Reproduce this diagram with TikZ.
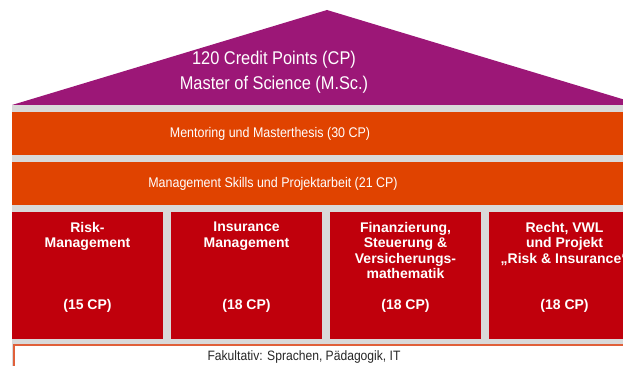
\documentclass[tikz,border=0pt]{standalone}
\usepackage{fontspec}
\setmainfont[FakeStretch=0.89]{Liberation Sans}
\newfontfamily\modfont{Liberation Sans}
\definecolor{roofpurple}{HTML}{9C1777}
\definecolor{bandorange}{HTML}{E04300}
\definecolor{modred}{HTML}{C0000C}
\definecolor{framegrey}{HTML}{D9D9D9}
\definecolor{optborder}{HTML}{E0603A}

\begin{document}
\begin{tikzpicture}[x=1pt,y=-1pt,
    rooftext/.style={text=white,align=center,font=\fontsize{18.4}{25}\selectfont},
    bandtext/.style={text=white,font=\fontsize{14}{16}\selectfont},
    modtext/.style={text=white,align=center,inner sep=0pt,font=\modfont\bfseries\fontsize{14}{15.5}\selectfont},
    opttext/.style={text=black!85,font=\fontsize{13.6}{16}\selectfont}]
\useasboundingbox (0,0) rectangle (623,366);
\clip (0,0) rectangle (623,366);

% Grey frame behind the house
\fill [framegrey] (11.5,105) rectangle (660,380);%

% Roof with degree
\fill [roofpurple] (12,105) -- (327,10) -- (642,105) -- cycle;%
\node [rooftext] (roof) at (274,72) {120 Credit Points (CP)\\Master of Science (M.Sc.)};%

% Mentoring band
\fill [bandorange] (12,112) rectangle (660,155);%
\node [bandtext] (mentoring) at (270,134) {Mentoring und Masterthesis (30 CP)};%

% Management band
\fill [bandorange] (12,162) rectangle (660,205);%
\node [bandtext] (skills) at (273,184) {Management Skills und Projektarbeit (21 CP)};%

% Module pillars
\foreach \x in {12,171,330,489}
  \fill [modred] (\x,212) rectangle ++(151,127);%

\node [modtext,anchor=north] (risk) at (87.5,222) {Risk-\\Management};%
\node [modtext] (riskcp) at (87.5,306) {(15 CP)};%

\node [modtext,anchor=north] (insurance) at (246.5,222) {Insurance\\Management};%
\node [modtext] (insurancecp) at (246.5,306) {(18 CP)};%

\node [modtext,anchor=north] (finance) at (405.5,222) {Finanzierung,\\Steuerung \&\\Versicherungs-\\mathematik};%
\node [modtext] (financecp) at (405.5,306) {(18 CP)};%

\node [modtext,anchor=north] (law) at (564.5,222) {Recht, VWL\\und Projekt\\„Risk \& Insurance“};%
\node [modtext] (lawcp) at (564.5,306) {(18 CP)};%

% Optional courses
\draw [optborder,line width=1.5pt,fill=white] (13.75,344.75) rectangle (660,380);%
\node [opttext] (optional) at (304,357) {Fakultativ: Sprachen, Pädagogik, IT};%
\end{tikzpicture}
\end{document}
